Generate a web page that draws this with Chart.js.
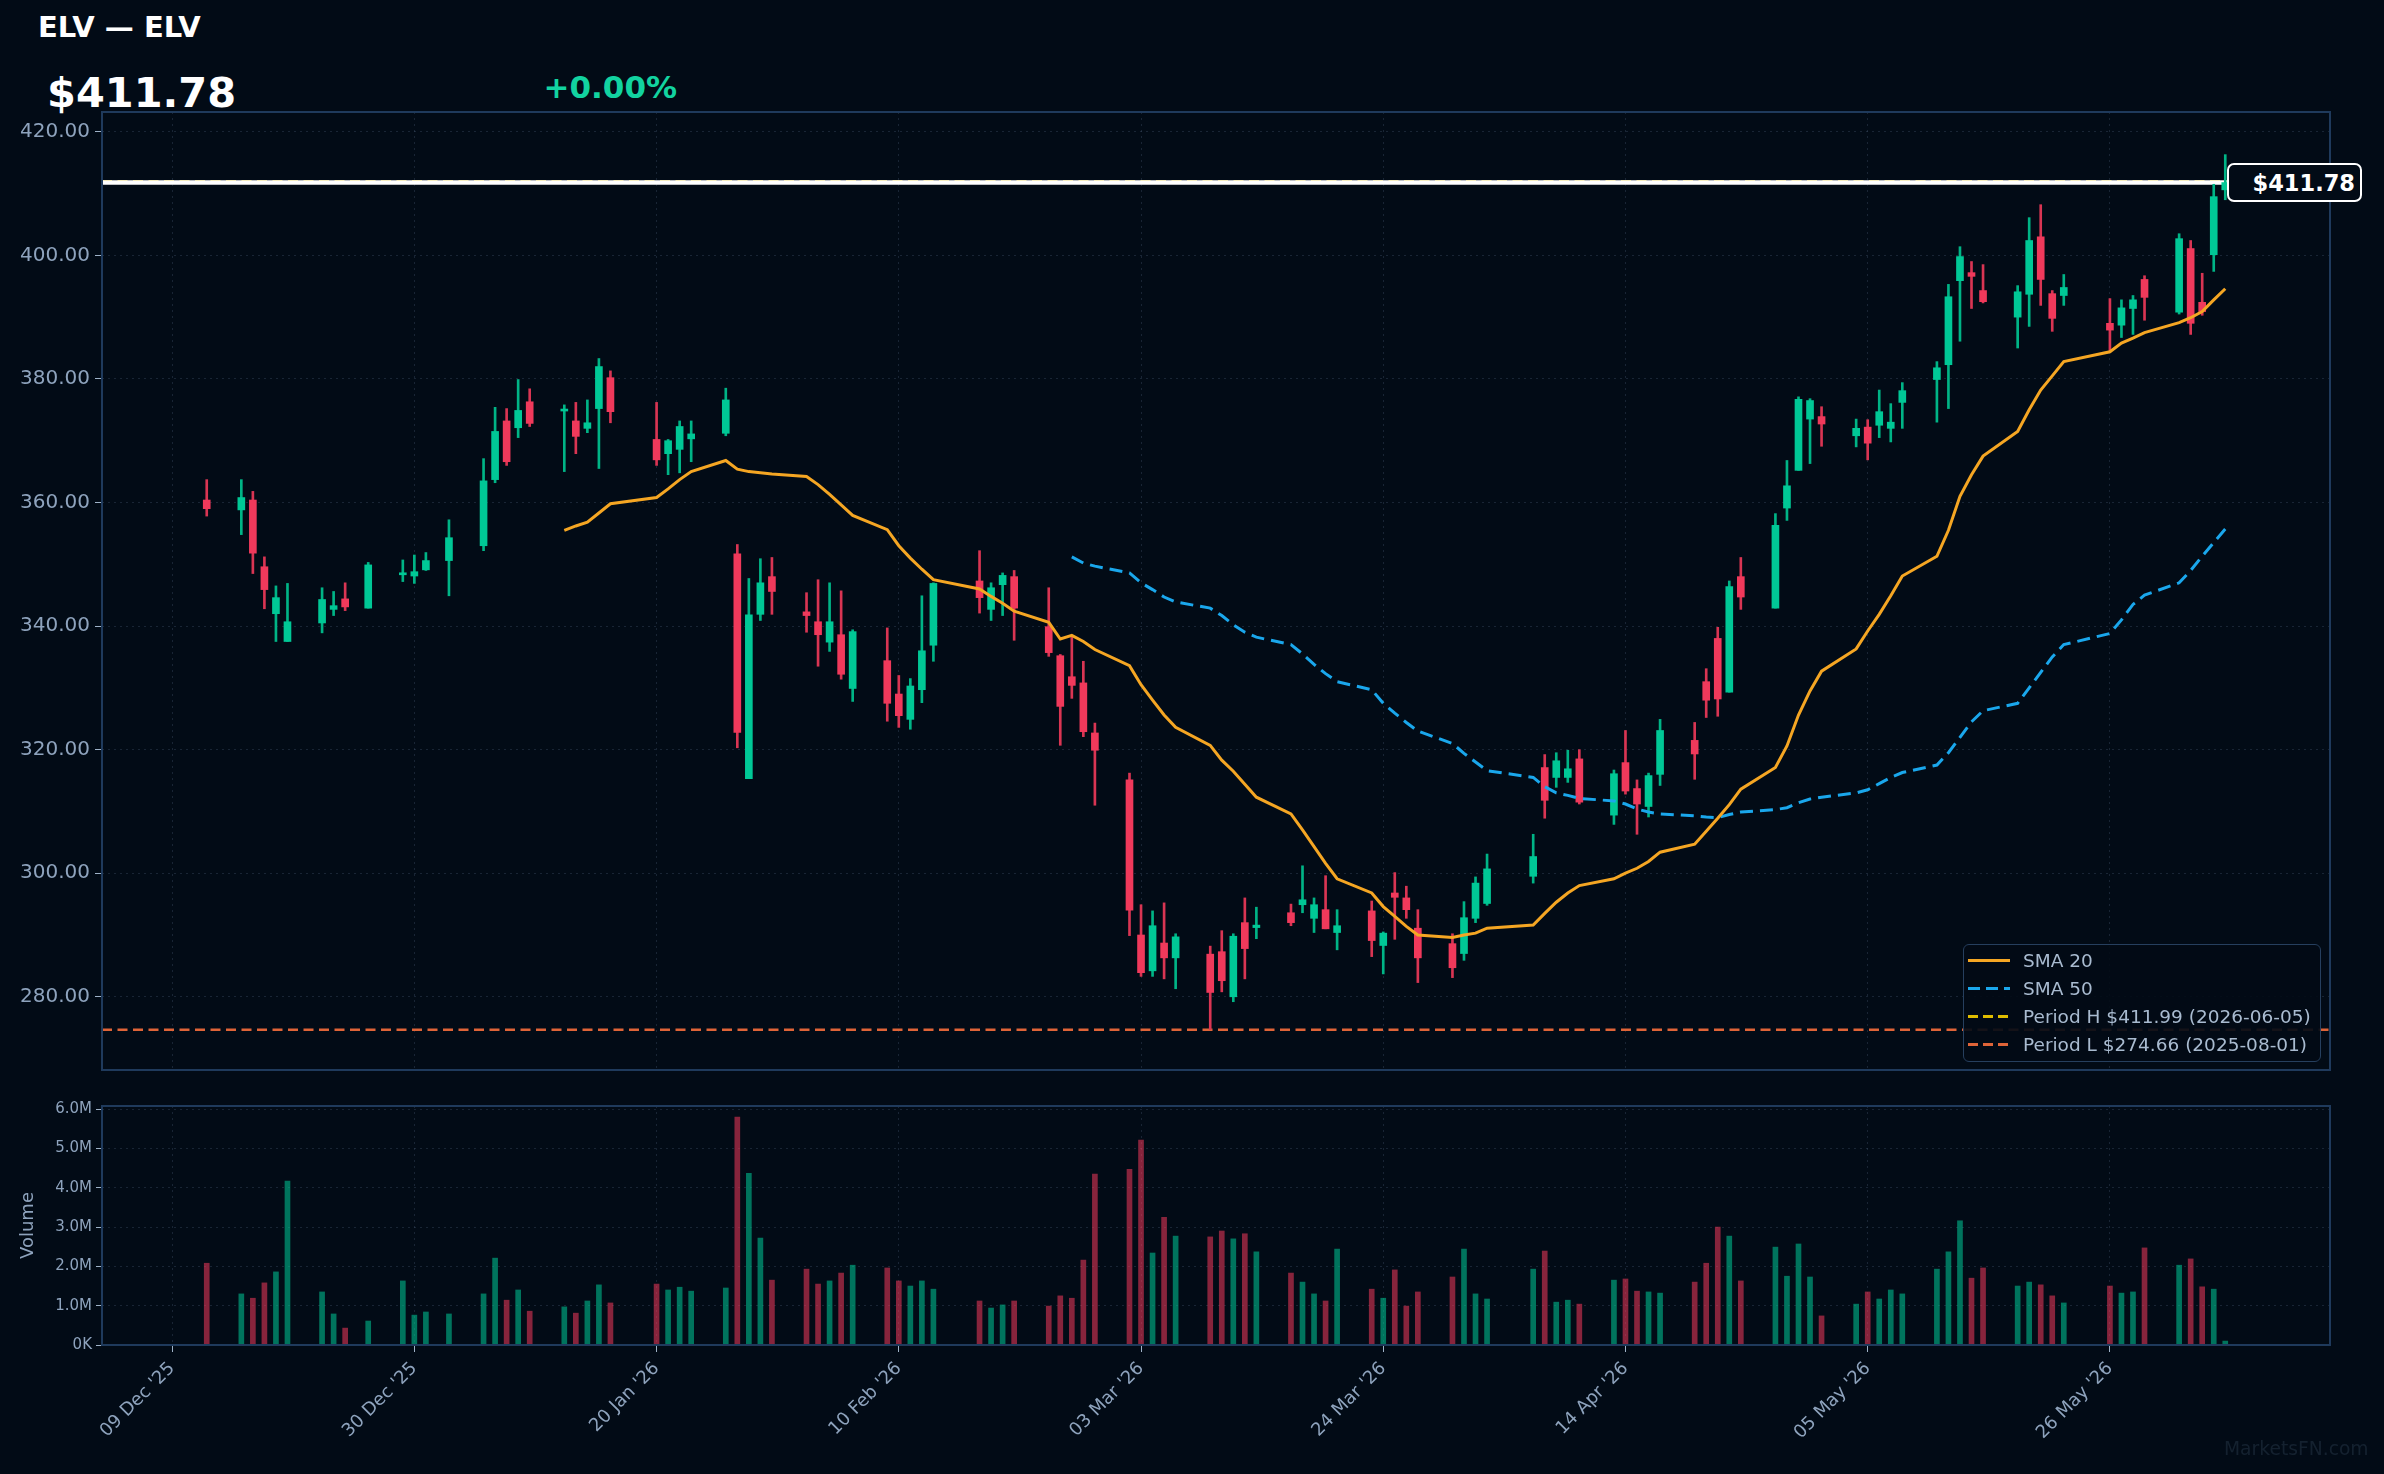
<!DOCTYPE html>
<html>
<head>
<meta charset="utf-8">
<title>ELV</title>
<script src="https://cdn.jsdelivr.net/npm/chart.js@4.4.1/dist/chart.umd.min.js"></script>
<style>
  html, body { margin: 0; padding: 0; background: #020b16; }
  body { width: 2384px; height: 1474px; position: relative; overflow: hidden; font-family: "DejaVu Sans", sans-serif; }
  canvas { position: absolute; left: 0; }
  #priceCanvas { top: 0; }
  #volCanvas { top: 1080px; }
  .txt { position: absolute; line-height: 1; white-space: nowrap; font-weight: bold; }
  #title { left: 38px; top: 12.5px; font-size: 29px; color: #ffffff; }
  #price { left: 47px; top: 72px; font-size: 41.5px; color: #ffffff; }
  #change { left: 543.5px; top: 72px; font-size: 31px; color: #12d3a0; }
  #lastTag { position: absolute; left: 2227px; top: 163px; width: 135px; height: 39px; box-sizing: border-box;
    border: 2.5px solid #ffffff; border-radius: 7px; background: #020b16; color: #fff; font-weight: bold;
    font-size: 22.5px; display: flex; align-items: center; justify-content: flex-end; padding-right: 5px; }
  #legend { position: absolute; left: 1963px; top: 944px; width: 358px; height: 118px; box-sizing: border-box;
    border: 1.5px solid #263f5e; border-radius: 6px; background: rgba(2, 11, 22, 0.92); padding-top: 1px; }
  #legend .row { height: 28px; display: flex; align-items: center; font-size: 18.5px; color: #a9bbd0; }
  #legend .sw { width: 42px; height: 3px; margin-left: 4px; margin-right: 13px; }
  #mark { position: absolute; left: 2224px; top: 1440px; font-size: 18.7px; color: rgba(120, 150, 180, 0.16); }
</style>
</head>
<body>
<div id="title" class="txt">ELV — ELV</div>
<div id="price" class="txt">$411.78</div>
<div id="change" class="txt">+0.00%</div>
<canvas id="priceCanvas" width="2384" height="1080"></canvas>
<canvas id="volCanvas" width="2384" height="394"></canvas>
<div id="lastTag">$411.78</div>
<div id="legend">
  <div class="row"><span class="sw" style="background:#f5a623"></span>SMA 20</div>
  <div class="row"><span class="sw" style="background:repeating-linear-gradient(90deg,#1aa7ec 0 12px,transparent 12px 18px)"></span>SMA 50</div>
  <div class="row"><span class="sw" style="background:repeating-linear-gradient(90deg,#e0bd00 0 10px,transparent 10px 15px)"></span>Period H $411.99 (2026-06-05)</div>
  <div class="row"><span class="sw" style="background:repeating-linear-gradient(90deg,#df6438 0 10px,transparent 10px 15px)"></span>Period L $274.66 (2025-08-01)</div>
</div>
<div id="mark" class="txt" style="font-weight:normal">MarketsFN.com</div>
<script>
// trading days shown on the chart
const dates = [
  '2025-12-12','2025-12-15','2025-12-16','2025-12-17','2025-12-18','2025-12-19','2025-12-22','2025-12-23','2025-12-24','2025-12-26',
  '2025-12-29','2025-12-30','2025-12-31','2026-01-02','2026-01-05','2026-01-06','2026-01-07','2026-01-08','2026-01-09','2026-01-12',
  '2026-01-13','2026-01-14','2026-01-15','2026-01-16','2026-01-20','2026-01-21','2026-01-22','2026-01-23','2026-01-26','2026-01-27',
  '2026-01-28','2026-01-29','2026-01-30','2026-02-02','2026-02-03','2026-02-04','2026-02-05','2026-02-06','2026-02-09','2026-02-10',
  '2026-02-11','2026-02-12','2026-02-13','2026-02-17','2026-02-18','2026-02-19','2026-02-20','2026-02-23','2026-02-24','2026-02-25',
  '2026-02-26','2026-02-27','2026-03-02','2026-03-03','2026-03-04','2026-03-05','2026-03-06','2026-03-09','2026-03-10','2026-03-11',
  '2026-03-12','2026-03-13','2026-03-16','2026-03-17','2026-03-18','2026-03-19','2026-03-20','2026-03-23','2026-03-24','2026-03-25',
  '2026-03-26','2026-03-27','2026-03-30','2026-03-31','2026-04-01','2026-04-02','2026-04-06','2026-04-07','2026-04-08','2026-04-09',
  '2026-04-10','2026-04-13','2026-04-14','2026-04-15','2026-04-16','2026-04-17','2026-04-20','2026-04-21','2026-04-22','2026-04-23',
  '2026-04-24','2026-04-27','2026-04-28','2026-04-29','2026-04-30','2026-05-01','2026-05-04','2026-05-05','2026-05-06','2026-05-07',
  '2026-05-08','2026-05-11','2026-05-12','2026-05-13','2026-05-14','2026-05-15','2026-05-18','2026-05-19','2026-05-20','2026-05-21',
  '2026-05-22','2026-05-26','2026-05-27','2026-05-28','2026-05-29','2026-06-01','2026-06-02','2026-06-03','2026-06-04','2026-06-05'
];
const opens = [
  360.4,358.8,360.4,349.6,342.0,337.5,340.5,342.7,344.4,342.9,
  348.3,348.1,349.1,350.6,353.0,363.7,373.2,372.1,376.3,374.8,
  373.2,372.0,375.2,380.2,370.2,367.9,368.6,370.3,371.2,351.7,
  315.3,341.9,348.0,342.3,340.7,337.4,338.6,329.9,334.4,329.0,
  324.9,329.7,336.9,347.3,342.7,346.7,348.0,339.9,335.2,331.8,
  330.8,322.7,315.1,290.0,284.2,288.7,286.3,286.9,287.3,280.0,
  292.0,291.2,293.6,294.9,292.7,294.1,290.4,293.9,288.3,296.8,
  296.0,291.1,288.6,287.0,292.7,295.1,299.5,317.1,315.5,315.5,
  318.5,309.4,317.9,313.7,310.8,316.0,321.5,331.0,338.0,329.3,
  348.0,342.9,359.1,365.2,373.5,373.9,370.8,372.2,372.5,372.0,
  376.2,379.9,382.3,395.9,397.2,394.3,390.0,393.7,403.0,393.8,
  393.5,389.0,388.7,391.4,396.1,390.8,401.1,392.4,400.1,410.6
];
const highs = [
  363.7,363.7,361.8,351.2,346.5,346.9,346.2,345.6,347.0,350.3,
  350.7,351.5,351.9,357.2,367.1,375.4,375.2,379.9,378.4,375.8,
  376.2,376.6,383.3,381.3,376.2,370.2,373.2,373.2,378.5,353.2,
  347.7,350.9,351.1,345.4,347.5,347.0,345.7,339.4,339.7,332.0,
  331.5,344.9,347.0,352.2,347.0,348.6,349.0,346.2,335.4,338.5,
  334.3,324.3,316.2,294.9,293.9,295.2,290.2,288.2,290.7,290.2,
  296.0,294.5,295.0,301.2,296.0,299.6,294.1,295.5,290.5,300.1,
  297.9,294.1,290.2,295.4,299.4,303.1,306.3,319.2,319.5,319.9,
  320.0,316.7,323.1,315.1,316.2,324.9,324.4,333.1,339.8,347.3,
  351.1,358.2,366.8,377.1,376.8,375.5,373.5,373.4,378.2,376.0,
  379.4,382.8,395.3,401.4,399.0,398.5,395.1,406.1,408.2,394.3,
  396.9,393.0,392.8,393.5,396.7,403.5,402.4,397.1,411.5,416.3
];
const lows = [
  357.8,354.8,348.5,342.8,337.5,337.5,338.9,341.7,342.5,342.9,
  347.2,346.9,349.0,344.9,352.2,363.2,366.0,370.5,372.3,365.0,
  367.9,371.3,365.5,372.9,366.0,364.5,364.8,366.6,370.8,320.3,
  315.3,340.9,341.9,339.0,333.5,335.9,331.4,327.8,324.6,323.6,
  323.3,327.6,334.3,342.1,340.9,341.7,337.7,335.1,320.7,328.3,
  322.1,311.0,289.9,283.3,283.3,282.9,281.3,274.7,280.8,279.2,
  282.9,289.4,291.5,293.6,290.4,291.0,287.6,286.5,283.7,289.3,
  292.7,282.3,283.1,285.9,292.0,294.8,298.4,308.9,313.9,314.7,
  311.2,307.9,312.8,306.3,309.1,314.2,315.2,325.2,325.4,329.3,
  342.7,342.9,357.1,365.2,366.3,369.1,369.0,366.9,370.5,369.8,
  372.0,373.0,375.2,386.1,391.4,392.3,385.0,388.5,391.9,387.7,
  391.9,384.5,386.7,387.2,389.5,390.5,387.2,390.3,397.4,409.0
];
const closes = [
  359.0,360.8,351.8,345.9,344.6,340.7,344.3,343.3,343.1,349.9,
  348.5,348.8,350.6,354.3,363.5,371.5,366.6,374.9,372.8,375.0,
  370.7,372.9,382.0,374.7,366.9,370.0,372.3,371.1,376.6,322.8,
  341.8,347.0,345.6,341.7,338.6,340.7,332.2,339.1,327.5,325.5,
  330.3,336.0,346.9,344.6,346.2,348.2,342.9,335.7,327.0,330.4,
  322.9,319.9,294.0,283.9,291.5,286.3,289.7,280.7,282.6,289.8,
  287.8,291.6,292.0,295.7,294.9,291.0,291.5,289.1,290.3,296.1,
  294.1,286.3,284.7,292.8,298.4,300.7,302.7,311.8,318.2,316.9,
  311.5,316.1,313.3,311.2,315.8,323.1,319.3,328.0,328.2,346.4,
  344.7,356.3,362.7,376.7,376.5,372.7,372.0,369.6,374.7,373.0,
  378.1,381.8,393.3,399.8,396.6,392.5,394.1,402.4,396.1,389.8,
  394.8,387.9,391.5,392.8,393.2,402.7,389.0,390.9,409.5,411.78
];
// volume in millions of shares
const volumesM = [
  2.08,1.30,1.19,1.58,1.86,4.17,1.35,0.79,0.43,0.61,
  1.63,0.76,0.84,0.79,1.30,2.21,1.14,1.40,0.86,0.97,
  0.81,1.12,1.53,1.07,1.55,1.40,1.47,1.37,1.45,5.80,
  4.37,2.72,1.65,1.93,1.55,1.63,1.83,2.03,1.96,1.63,
  1.50,1.63,1.42,1.12,0.94,1.02,1.12,0.99,1.25,1.19,
  2.16,4.35,4.47,5.21,2.34,3.25,2.77,2.75,2.90,2.70,
  2.83,2.37,1.83,1.60,1.30,1.12,2.44,1.42,1.19,1.91,
  0.99,1.35,1.73,2.44,1.30,1.17,1.93,2.39,1.09,1.14,
  1.04,1.65,1.68,1.37,1.35,1.32,1.60,2.08,3.00,2.77,
  1.63,2.49,1.75,2.57,1.73,0.74,1.04,1.35,1.17,1.40,
  1.30,1.93,2.37,3.16,1.70,1.96,1.50,1.60,1.53,1.25,
  1.07,1.50,1.32,1.35,2.47,2.03,2.19,1.48,1.42,0.10
];
const sma20 = [
  null,null,null,null,null,null,null,null,null,null,
  null,null,null,null,null,null,null,null,null,355.5,
  356.2,356.8,358.3,359.8,360.8,362.2,363.7,365.0,366.8,365.4,
  365.0,364.8,364.6,364.2,362.9,361.3,359.6,357.9,355.6,353.0,
  351.0,349.2,347.5,346.0,344.8,343.7,342.4,340.6,337.9,338.5,
  337.5,336.2,333.6,330.5,328.0,325.6,323.6,320.7,318.3,316.5,
  314.4,312.3,309.6,307.0,304.3,301.6,299.1,296.8,294.6,293.0,
  291.4,290.0,289.6,290.0,290.3,291.1,291.6,293.5,295.3,296.8,
  298.0,299.1,300.0,300.8,301.9,303.4,304.7,306.8,308.9,311.1,
  313.6,317.1,320.6,325.6,329.5,332.7,336.3,339.2,341.9,344.9,
  348.1,351.3,355.5,361.0,364.5,367.5,371.5,375.0,378.2,380.5,
  382.8,384.4,385.8,386.6,387.5,389.1,389.9,390.9,392.8,394.6
];
const sma50 = [
  null,null,null,null,null,null,null,null,null,null,
  null,null,null,null,null,null,null,null,null,null,
  null,null,null,null,null,null,null,null,null,null,
  null,null,null,null,null,null,null,null,null,null,
  null,null,null,null,null,null,null,null,null,351.2,
  350.2,349.7,348.6,347.0,345.9,344.7,343.9,342.9,341.7,340.2,
  339.0,338.2,337.0,335.5,333.8,332.3,331.0,329.7,327.5,325.9,
  324.4,323.0,321.0,319.4,318.0,316.6,315.5,314.0,313.0,312.6,
  312.1,311.7,311.2,310.4,309.9,309.6,309.3,309.1,309.0,309.5,
  309.9,310.3,310.6,311.4,312.0,312.3,313.0,313.5,314.5,315.5,
  316.3,317.5,319.5,322.0,324.5,326.3,327.5,330.0,332.5,335.0,
  337.0,338.8,341.0,343.5,345.0,347.0,349.0,351.3,353.5,355.7
];
const tickDates = ['2025-12-09','2025-12-30','2026-01-20','2026-02-10','2026-03-03','2026-03-24','2026-04-14','2026-05-05','2026-05-26'];
const tickLabels = ["09 Dec '25","30 Dec '25","20 Jan '26","10 Feb '26","03 Mar '26","24 Mar '26","14 Apr '26","05 May '26","26 May '26"];
const priceTicks = [280, 300, 320, 340, 360, 380, 400, 420];
const volTicks = [0, 1, 2, 3, 4, 5, 6];
const lastPrice = 411.78;
const periodHigh = 411.99;
const periodLow = 274.66;

const GREEN = '#00c896';
const RED = '#f0395b';
const GRID = 'rgba(80,100,125,0.30)';
const TICK = '#8ea3bd';
const FRAME = '#1f3a5c';
const FONT = '"DejaVu Sans", sans-serif';

Chart.defaults.font.family = FONT;
Chart.defaults.color = TICK;

// x values are days counted from the first tick date
const base = Date.parse(tickDates[0] + 'T00:00:00Z');
function dayOf(s) { return (Date.parse(s + 'T00:00:00Z') - base) / 86400000; }
const xs = dates.map(dayOf);
const tickDays = tickDates.map(dayOf);
const xMin = -6.08, xMax = 187.08;
const up = closes.map((c, i) => c >= opens[i]);

const framePlugin = {
  id: 'frame',
  afterDraw(chart) {
    const a = chart.chartArea, ctx = chart.ctx;
    ctx.save();
    ctx.strokeStyle = FRAME;
    ctx.lineWidth = 2;
    ctx.strokeRect(a.left, a.top, a.right - a.left, a.bottom - a.top);
    ctx.restore();
  }
};

const levelPlugin = {
  id: 'levels',
  beforeDatasetsDraw(chart) {
    const a = chart.chartArea, ctx = chart.ctx, y = chart.scales.y;
    function hline(v, color, width, dash) {
      const py = y.getPixelForValue(v);
      ctx.save();
      ctx.strokeStyle = color;
      ctx.lineWidth = width;
      ctx.setLineDash(dash);
      ctx.beginPath();
      ctx.moveTo(a.left, py);
      ctx.lineTo(a.right, py);
      ctx.stroke();
      ctx.restore();
    }
    hline(periodLow, '#df6438', 2.5, [10, 5.5]);
    hline(periodHigh, '#e0bd00', 2.5, [10, 5.5]);
    hline(lastPrice, '#ffffff', 4.5, []);
  }
};

// fixed y-axis width, and no label overhang so both plot areas line up
function fixY(s) {
  s.width = 102;
  s.paddingTop = 0;
  s.paddingBottom = 0;
}

function xAxis(showLabels) {
  return {
    type: 'linear',
    min: xMin,
    max: xMax,
    offset: false,
    afterBuildTicks: s => { s.ticks = tickDays.map(v => ({ value: v })); },
    grid: { color: GRID, offset: false, drawTicks: showLabels, tickLength: 7, tickColor: '#9fb3c8' },
    border: { display: false, dash: [2, 4] },
    ticks: {
      display: showLabels,
      autoSkip: false,
      maxRotation: 45,
      minRotation: 45,
      padding: 6,
      font: { size: 18 },
      color: TICK,
      callback: v => tickLabels[tickDays.indexOf(v)]
    },
    afterFit: s => {
      s.height = showLabels ? 129 : 0;
      s.paddingLeft = 0;
      s.paddingRight = 0;
    }
  };
}

new Chart(document.getElementById('priceCanvas'), {
  type: 'bar',
  data: {
    datasets: [
      {
        type: 'line', label: 'SMA 20', order: 0,
        data: xs.map((x, i) => ({ x: x, y: sma20[i] })),
        borderColor: '#f5a623', borderWidth: 3, pointRadius: 0, spanGaps: false
      },
      {
        type: 'line', label: 'SMA 50', order: 0,
        data: xs.map((x, i) => ({ x: x, y: sma50[i] })),
        borderColor: '#1aa7ec', borderWidth: 3, borderDash: [13, 7], pointRadius: 0, spanGaps: false
      },
      {
        label: 'body', order: 1,
        data: xs.map((x, i) => ({ x: x, y: [opens[i], closes[i]] })),
        backgroundColor: up.map(u => u ? GREEN : RED),
        barThickness: 7, grouped: false, minBarLength: 2
      },
      {
        label: 'wick', order: 2,
        data: xs.map((x, i) => ({ x: x, y: [lows[i], highs[i]] })),
        backgroundColor: up.map(u => u ? '#00b486' : '#d93553'),
        barThickness: 2, grouped: false
      }
    ]
  },
  options: {
    responsive: false,
    animation: false,
    events: [],
    layout: { padding: { top: 112, right: 54, bottom: 10, left: 0 } },
    plugins: { legend: { display: false }, tooltip: { enabled: false } },
    scales: {
      x: xAxis(false),
      y: {
        type: 'linear',
        min: 268.15,
        max: 423.2,
        afterBuildTicks: s => { s.ticks = priceTicks.map(v => ({ value: v })); },
        grid: { color: GRID, tickColor: '#9fb3c8', tickLength: 7 },
        border: { display: false, dash: [2, 4] },
        ticks: { font: { size: 20 }, color: TICK, padding: 5, callback: v => v.toFixed(2) },
        afterFit: fixY
      }
    }
  },
  plugins: [levelPlugin, framePlugin]
});

new Chart(document.getElementById('volCanvas'), {
  type: 'bar',
  data: {
    datasets: [{
      label: 'Volume',
      data: xs.map((x, i) => ({ x: x, y: volumesM[i] })),
      backgroundColor: up.map(u => u ? 'rgba(0,200,150,0.56)' : 'rgba(240,57,91,0.56)'),
      barThickness: 5, grouped: false
    }]
  },
  options: {
    responsive: false,
    animation: false,
    events: [],
    layout: { padding: { top: 26, right: 54, bottom: 0, left: 0 } },
    plugins: { legend: { display: false }, tooltip: { enabled: false } },
    scales: {
      x: xAxis(true),
      y: {
        type: 'linear',
        min: 0,
        max: 6.08,
        afterBuildTicks: s => { s.ticks = volTicks.map(v => ({ value: v })); },
        grid: { color: GRID, tickColor: '#9fb3c8', tickLength: 6 },
        border: { display: false, dash: [2, 4] },
        ticks: { font: { size: 15 }, color: TICK, padding: 4, callback: v => v === 0 ? '0K' : v.toFixed(1) + 'M' },
        title: { display: true, text: 'Volume', color: TICK, font: { size: 18 }, padding: { top: 18, bottom: 0 } },
        afterFit: fixY
      }
    }
  },
  plugins: [framePlugin]
});
</script>
</body>
</html>
